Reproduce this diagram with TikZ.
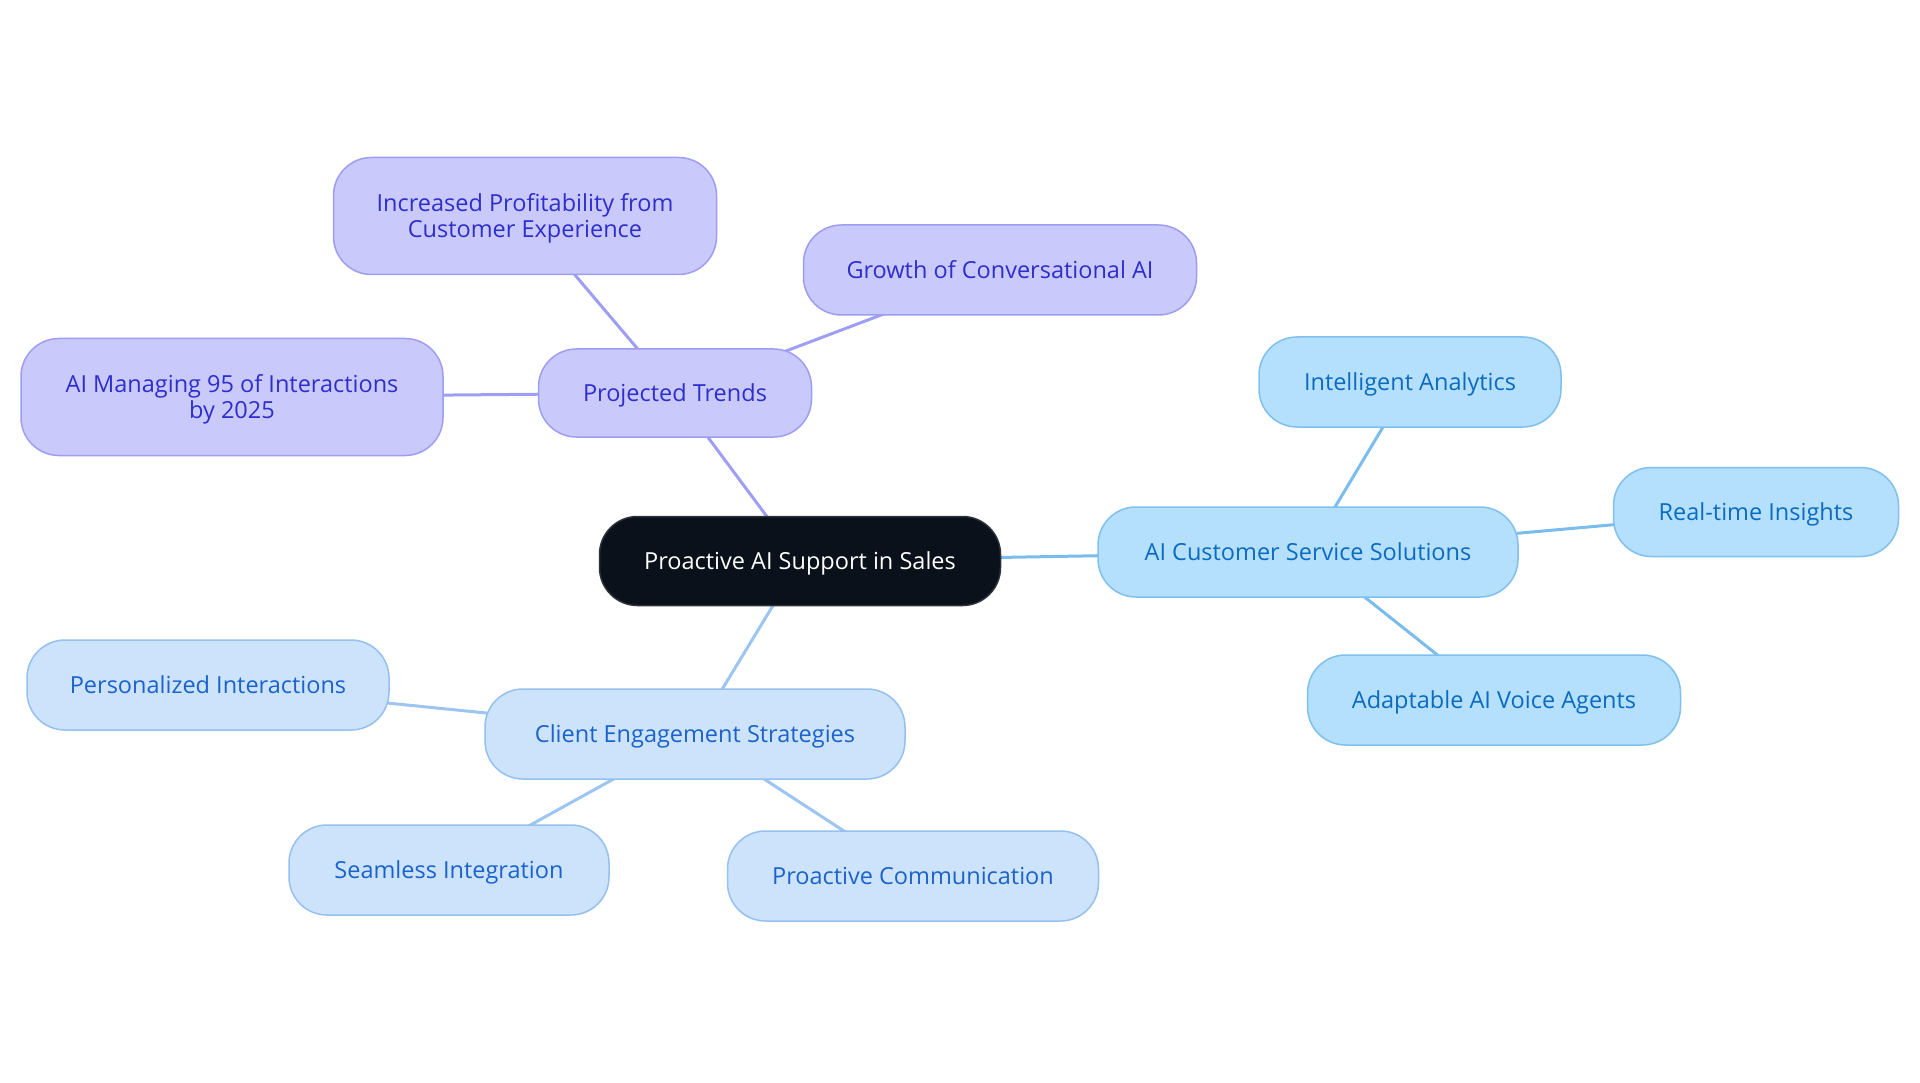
\documentclass[tikz,border=0pt]{standalone}
\usepackage{fontspec}
\setmainfont{Open Sans}
\usetikzlibrary{backgrounds}
\definecolor{pfill}{HTML}{C9C9FC}
\definecolor{pdraw}{HTML}{9D9DF2}
\definecolor{ptext}{HTML}{2E2ECC}
\definecolor{pedge}{HTML}{9E9EF5}
\definecolor{bfill}{HTML}{B4DFFD}
\definecolor{bdraw}{HTML}{7FC0EF}
\definecolor{btext}{HTML}{0B6BC0}
\definecolor{bedge}{HTML}{7ABCEC}
\definecolor{lfill}{HTML}{CCE3FB}
\definecolor{ldraw}{HTML}{95C0F0}
\definecolor{ltext}{HTML}{1A63CC}
\definecolor{ledge}{HTML}{9DC5F2}
\definecolor{rootfill}{HTML}{0B111A}
\tikzset{
  box/.style={rectangle, rounded corners=38pt, line width=1.5pt, inner sep=0pt, align=center,
    font=\fontsize{23.5}{26}\selectfont, text depth=0pt},
  pbox/.style={box, fill=pfill, draw=pdraw, text=ptext},
  bbox/.style={box, fill=bfill, draw=bdraw, text=btext},
  lbox/.style={box, fill=lfill, draw=ldraw, text=ltext},
  rootbox/.style={box, fill=rootfill, draw=rootfill!70!gray, text=white},
  pline/.style={draw=pedge, line width=3pt},
  bline/.style={draw=bedge, line width=3pt},
  lline/.style={draw=ledge, line width=3pt},
}
\begin{document}
\begin{tikzpicture}[x=1pt,y=-1pt]
\useasboundingbox (0,0) rectangle (1920,1083);
\node[rootbox, minimum width=401pt, minimum height=89pt] (root) at (800,561) {Proactive AI Support in Sales};
\node[pbox, minimum width=273pt, minimum height=88pt] (pt) at (675,393) {Projected Trends};
\node[pbox, minimum width=383pt, minimum height=117pt] (ip) at (525,216) {Increased Profitability from\\Customer Experience};
\node[pbox, minimum width=393pt, minimum height=90pt] (gc) at (1000,270) {Growth of Conversational AI};
\node[pbox, minimum width=422pt, minimum height=117pt] (am) at (232,397) {AI Managing 95 of Interactions\\by 2025};
\node[bbox, minimum width=420pt, minimum height=90pt] (cs) at (1308,552) {AI Customer Service Solutions};
\node[bbox, minimum width=302pt, minimum height=90pt] (ia) at (1410,382) {Intelligent Analytics};
\node[bbox, minimum width=285pt, minimum height=89pt] (rt) at (1756,512) {Real-time Insights};
\node[bbox, minimum width=373pt, minimum height=90pt] (av) at (1494,700) {Adaptable AI Voice Agents};
\node[lbox, minimum width=420pt, minimum height=90pt] (ce) at (695,734) {Client Engagement Strategies};
\node[lbox, minimum width=362pt, minimum height=90pt] (pi) at (208,685) {Personalized Interactions};
\node[lbox, minimum width=320pt, minimum height=90pt] (si) at (449,870) {Seamless Integration};
\node[lbox, minimum width=371pt, minimum height=90pt] (pc) at (913,876) {Proactive Communication};
\begin{scope}[on background layer]
\path[pline] (root.center) -- (pt.center);
\path[pline] (pt.center) -- (ip.center);
\path[pline] (pt.center) -- (gc.center);
\path[pline] (pt.center) -- (am.center);
\path[bline] (root.center) -- (cs.center);
\path[bline] (cs.center) -- (ia.center);
\path[bline] (cs.center) -- (rt.center);
\path[bline] (cs.center) -- (av.center);
\path[lline] (root.center) -- (ce.center);
\path[lline] (ce.center) -- (pi.center);
\path[lline] (ce.center) -- (si.center);
\path[lline] (ce.center) -- (pc.center);
\end{scope}
\end{tikzpicture}
\end{document}
